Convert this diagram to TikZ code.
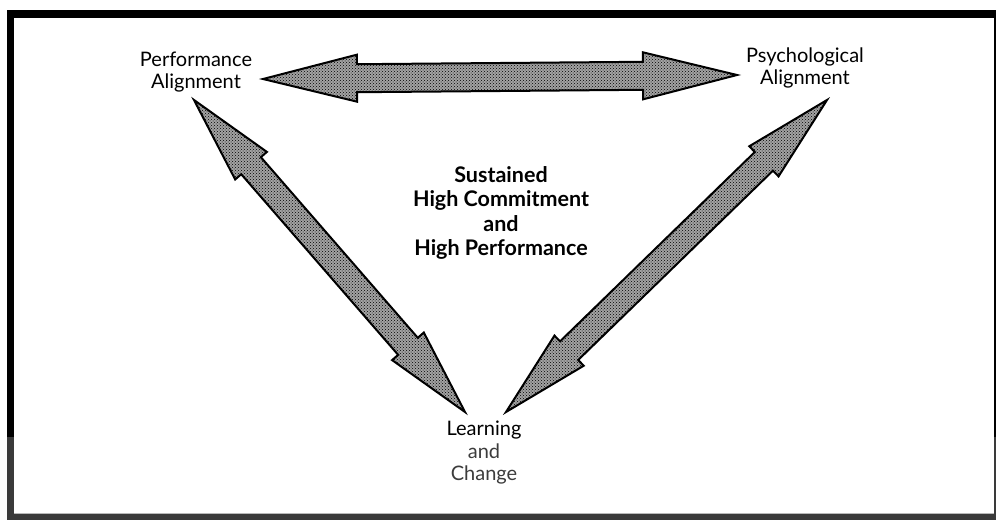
\documentclass[tikz,border=0pt]{standalone}
\usepackage{fontspec}
\setmainfont{Lato}
\usetikzlibrary{calc,patterns}

\definecolor{framegray}{HTML}{3A3A3A}
\definecolor{softtext}{HTML}{3C3C3C}

\tikzset{
  cornertext/.style={align=center, inner sep=0pt, font=\fontsize{20}{21.5}\selectfont},
  centertext/.style={align=center, inner sep=0pt, font=\bfseries\fontsize{21.5}{24.3}\selectfont},
  hatched/.style={fill=black!36,
    postaction={pattern=crosshatch dots, pattern color=black},
    postaction={draw=black, line width=2pt, line join=miter}},
}

% Block arrow with a head at both ends.
% #1, #2: tips; #3: shaft half width; #4: head half width; #5: head length
\newcommand\twowayarrow[5]{%
  \path[hatched] (#1)
    -- ($(#1)!#5!(#2)!#4!90:(#2)$)
    -- ($(#1)!#5!(#2)!#3!90:(#2)$)
    -- ($(#2)!#5!(#1)!#3!-90:(#1)$)
    -- ($(#2)!#5!(#1)!#4!-90:(#1)$)
    -- (#2)
    -- ($(#2)!#5!(#1)!#4!90:(#1)$)
    -- ($(#2)!#5!(#1)!#3!90:(#1)$)
    -- ($(#1)!#5!(#2)!#3!-90:(#2)$)
    -- ($(#1)!#5!(#2)!#4!-90:(#2)$)
    -- cycle;}

\begin{document}
\begin{tikzpicture}[x=1pt, y=-1pt]
  % page and frame
  \useasboundingbox (0,0) rectangle (996,520);
  \fill[white] (0,0) rectangle (996,520);
  \fill[black] (7,10) rectangle (996,437);
  \fill[framegray] (7,437) rectangle (996,520);
  \fill[white] (14,18) rectangle (994,513);
  \draw[gray!55, line width=1pt] (14,513.5) -- (994,513.5);

  % labels
  \node[cornertext] (perf) at (196,72) {Performance\\Alignment};
  \node[cornertext] (psych) at (805,68) {Psychological\\Alignment};
  \node[centertext] (core) at (501,213) {Sustained\\High Commitment\\and\\High Performance};
  \node[cornertext, anchor=base] (learn) at (484,435) {Learning};
  \node[cornertext, anchor=base, text=softtext] (learnand) at (484,458) {and};
  \node[cornertext, anchor=base, text=softtext] (learnchange) at (484,480) {Change};

  % arrow tips next to the labels
  \coordinate (perf-e) at (263,79);
  \coordinate (psych-w) at (737,75);
  \coordinate (perf-s) at (194,100);
  \coordinate (psych-s) at (827,100);
  \coordinate (learn-nw) at (465,412);
  \coordinate (learn-ne) at (506,412);

  % the three two-way arrows
  \twowayarrow{perf-e}{psych-w}{14pt}{23.5pt}{94pt}
  \twowayarrow{perf-s}{learn-nw}{13pt}{21pt}{87pt}
  \twowayarrow{psych-s}{learn-ne}{13pt}{21pt}{88pt}
\end{tikzpicture}
\end{document}
